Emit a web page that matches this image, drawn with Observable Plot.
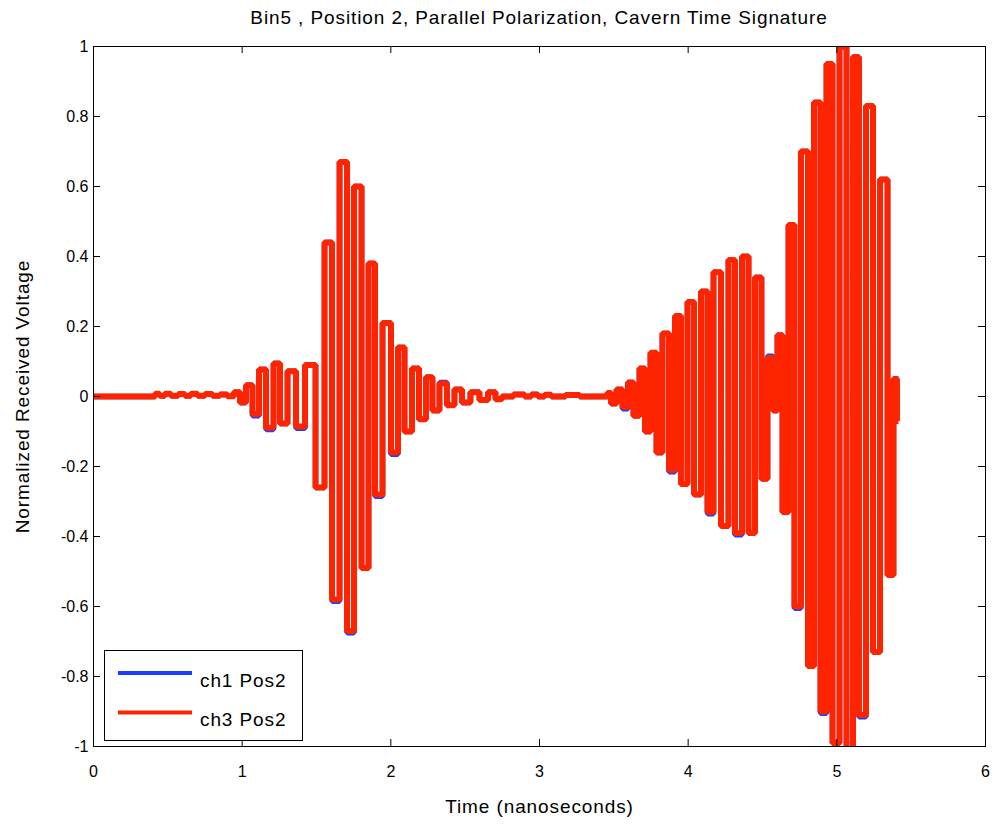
<!DOCTYPE html>
<html><head><meta charset="utf-8">
<script src="https://cdn.jsdelivr.net/npm/d3@7"></script>
<script src="https://cdn.jsdelivr.net/npm/@observablehq/plot@0.6"></script>
<style>
body{margin:0;background:#fff;}
#wrap{position:relative;width:995px;height:826px;font-family:"Liberation Sans",Arial,Helvetica,sans-serif;color:#000;}
#title{position:absolute;left:93px;width:892px;top:7px;text-align:center;font-size:19px;line-height:21px;letter-spacing:0.9px;white-space:nowrap;}
#chart{position:absolute;left:0;top:36px;}
#legend{position:absolute;left:0;top:0;pointer-events:none;}
</style></head>
<body><div id="wrap"><div id="title"></div><div id="chart"></div><svg id="legend" width="995" height="826"></svg></div>
<script>
const titleText = "Bin5 , Position 2, Parallel Polarization, Cavern Time Signature";
const xLabel = "Time (nanoseconds)";
const yLabel = "Normalized Received Voltage";
const seriesNames = ["ch1 Pos2", "ch3 Pos2"];
const seriesColors = ["#1a3dff", "#ff2400"];
const xTicks = [0, 1, 2, 3, 4, 5, 6];
const yTicks = [-1, -0.8, -0.6, -0.4, -0.2, 0, 0.2, 0.4, 0.6, 0.8, 1];

const timeNs = [
0, 0.40, 0.43, 0.46, 0.50, 0.54, 0.60, 0.63, 0.68, 0.72, 0.78, 0.82, 0.88, 0.92,
0.969, 1.002, 1.049, 1.090, 1.137, 1.184, 1.238, 1.271, 1.339, 1.386, 1.460,
1.527, 1.581, 1.628, 1.682, 1.729, 1.776, 1.830, 1.870, 1.917, 1.971,
2.031, 2.065, 2.119, 2.166, 2.213, 2.260, 2.300, 2.354, 2.401, 2.455,
2.502, 2.569, 2.623, 2.684, 2.724, 2.770, 2.880, 2.920, 2.970, 3.010,
3.060, 3.100, 3.250, 3.290, 3.450, 3.464, 3.498, 3.538, 3.578, 3.612,
3.652, 3.693, 3.726, 3.767, 3.807, 3.847, 3.895, 3.928, 3.975, 4.016,
4.063, 4.110, 4.150, 4.191, 4.251, 4.291, 4.338, 4.386, 4.426, 4.473,
4.513, 4.554, 4.587, 4.614, 4.655, 4.695, 4.735, 4.782, 4.830, 4.863,
4.917, 4.944, 4.998, 5.038, 5.092, 5.125, 5.172, 5.220, 5.267, 5.314,
5.368, 5.394, 5.415
];

const ch3Values = [
0, 0, 0.008, 0.002, 0.008, 0.002, 0.007, 0.002, 0.008, 0.002, 0.007, 0.002, 0.006, 0.001,
0.012, -0.017, 0.032, -0.05, 0.077, -0.089, 0.094, -0.077, 0.072, -0.086, 0.09,
-0.26, 0.44, -0.58, 0.67, -0.67, 0.60, -0.49, 0.38, -0.28, 0.21,
-0.16, 0.14, -0.10, 0.08, -0.065, 0.055, -0.04, 0.037, -0.025, 0.02,
-0.017, 0.012, -0.01, 0.012, -0.008, 0, 0.006, 0, 0.006, 0,
0.005, 0, 0.004, 0, 0, 0.01, -0.02, 0.02, -0.03, 0.04,
-0.055, 0.08, -0.10, 0.125, -0.16, 0.18, -0.21, 0.23, -0.25, 0.27,
-0.28, 0.30, -0.33, 0.355, -0.37, 0.39, -0.39, 0.40, -0.39, 0.34,
-0.235, 0.11, -0.04, 0.175, -0.33, 0.49, -0.60, 0.70, -0.77, 0.84,
-0.90, 0.95, -0.99, 1.0, -1.02, 0.97, -0.91, 0.83, -0.73, 0.62,
-0.51, 0.05, -0.07
];

const ch1Values = [
0, 0, 0.008, 0.002, 0.008, 0.002, 0.007, 0.002, 0.008, 0.002, 0.007, 0.002, 0.006, 0.001,
0.012, -0.017, 0.032, -0.055, 0.077, -0.094, 0.094, -0.077, 0.072, -0.091, 0.09,
-0.26, 0.44, -0.585, 0.67, -0.675, 0.60, -0.49, 0.38, -0.285, 0.21,
-0.165, 0.14, -0.10, 0.08, -0.065, 0.055, -0.04, 0.04, -0.025, 0.02,
-0.017, 0.012, -0.01, 0.012, -0.008, 0, 0.006, 0, 0.006, 0,
0.005, 0, 0.004, 0, 0, 0.01, -0.02, 0.02, -0.035, 0.04,
-0.055, 0.08, -0.10, 0.125, -0.16, 0.18, -0.215, 0.23, -0.25, 0.27,
-0.28, 0.30, -0.335, 0.355, -0.37, 0.39, -0.395, 0.40, -0.39, 0.34,
-0.235, 0.115, -0.04, 0.175, -0.33, 0.49, -0.605, 0.70, -0.77, 0.84,
-0.905, 0.95, -0.99, 1.0, -1.02, 0.97, -0.915, 0.83, -0.73, 0.62,
-0.51, 0.05, 0.05
];

const data1 = timeNs.map((t, i) => ({t, v: ch1Values[i]}));
const data3 = timeNs.map((t, i) => ({t, v: ch3Values[i]}));

const W = 995, H = 790, mL = 93, mR = 10, mT = 10, mB = 80;
const fW = W - mL - mR, fH = H - mT - mB, tk = 7;
const font = '"Liberation Sans", Arial, Helvetica, sans-serif';

document.getElementById("title").textContent = titleText;

const lineOpts = {x: "t", y: "v", curve: "step", strokeLinejoin: "miter", strokeLinecap: "butt", clip: true};

const chart = Plot.plot({
  width: W, height: H,
  marginLeft: mL, marginRight: mR, marginTop: mT, marginBottom: mB,
  x: {domain: [0, 6]},
  y: {domain: [-1, 1]},
  style: {fontFamily: font, fontSize: "16px", color: "#000", background: "#fff", overflow: "visible"},
  marks: [
    Plot.line(data1, {...lineOpts, stroke: seriesColors[0], strokeWidth: 5.5}),
    Plot.line(data3, {...lineOpts, stroke: seriesColors[1], strokeWidth: 6}),
    Plot.frame({stroke: "#000", strokeWidth: 1}),
    Plot.ruleX(xTicks, {x: d => d, insetTop: fH - tk, stroke: "#000"}),
    Plot.ruleX(xTicks, {x: d => d, insetBottom: fH - tk, stroke: "#000"}),
    Plot.ruleY(yTicks, {y: d => d, insetRight: fW - tk, stroke: "#000"}),
    Plot.ruleY(yTicks, {y: d => d, insetLeft: fW - tk, stroke: "#000"}),
    Plot.axisX({ticks: xTicks, tickSize: 0, tickPadding: 19, label: null, tickFormat: d => String(d)}),
    Plot.axisY({ticks: yTicks, tickSize: 0, tickPadding: 5, label: null, tickFormat: d => String(Math.round(d * 10) / 10)}),
    Plot.text([xLabel], {frameAnchor: "bottom", dy: 60, text: d => d, fontSize: 19, textAnchor: "middle", lineAnchor: "middle"}),
    Plot.text([yLabel], {frameAnchor: "left", dx: -71, rotate: -90, text: d => d, fontSize: 19, textAnchor: "middle", lineAnchor: "middle"})
  ]
});
d3.select(chart).selectAll("text").filter(function() { return this.textContent === xLabel || this.textContent === yLabel; })
  .style("letter-spacing", "0.9px");
document.getElementById("chart").appendChild(chart);

// legend (inside the plot frame, bottom-left)
const lg = d3.select("#legend");
const lx = 104.5, ly = 650.5, lw = 198, lh = 90;
lg.append("rect").attr("x", lx).attr("y", ly).attr("width", lw).attr("height", lh)
  .attr("fill", "#fff").attr("stroke", "#000").attr("stroke-width", 1);
seriesNames.forEach((name, i) => {
  const yLine = 673 + i * 39.5;
  lg.append("line").attr("x1", 118).attr("x2", 192).attr("y1", yLine).attr("y2", yLine)
    .attr("stroke", seriesColors[i]).attr("stroke-width", 4);
  lg.append("text").attr("x", 200).attr("y", yLine + 13.5).text(name)
    .attr("font-family", font).attr("font-size", 19).style("letter-spacing", "0.9px");
});
</script></body></html>
